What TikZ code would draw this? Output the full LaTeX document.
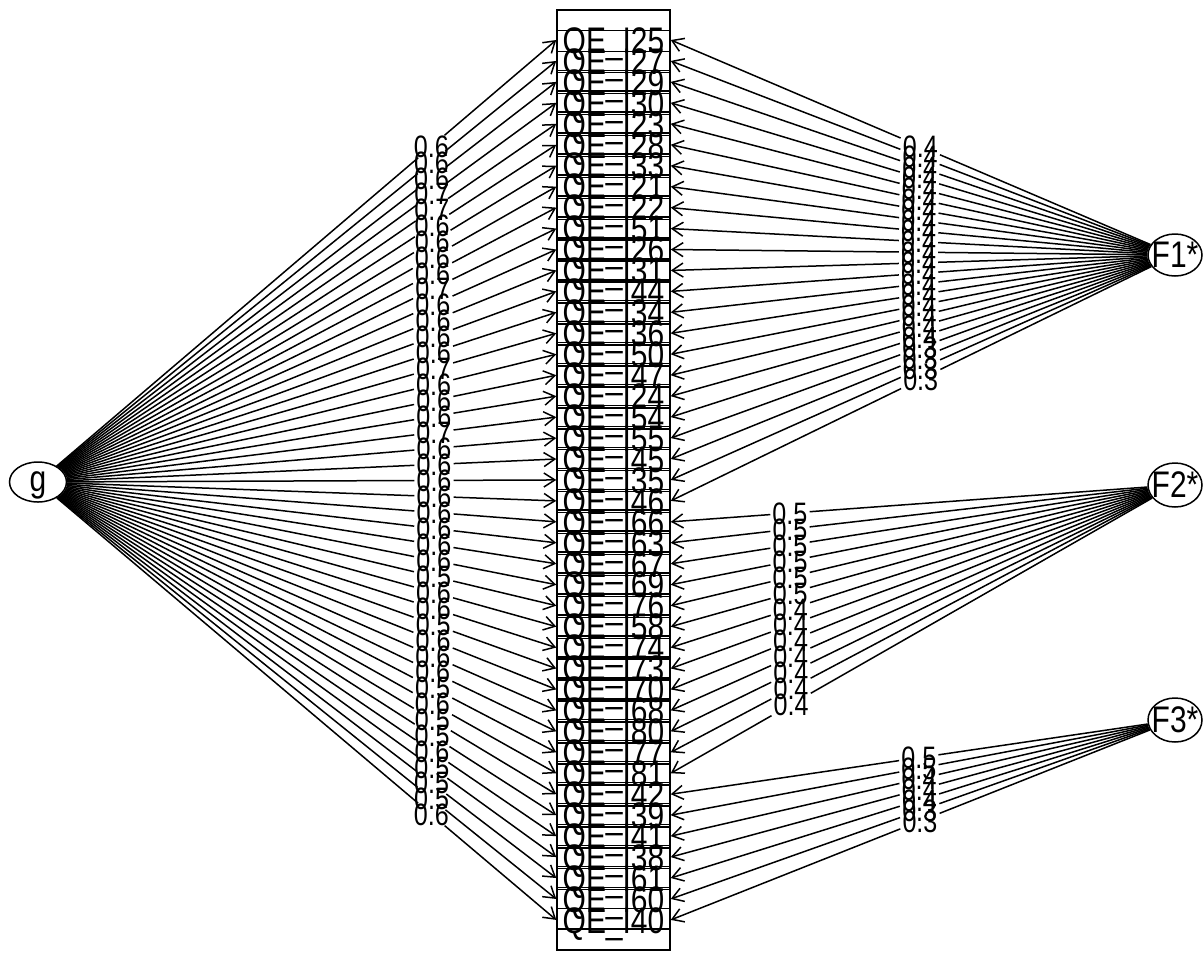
\documentclass[tikz,border=0pt]{standalone}
\usepackage{fontspec}
\setmainfont{Liberation Sans}[FakeStretch=0.81]
\usetikzlibrary{arrows.meta,shapes.geometric}
\newcommand\zb[1]{\makebox[0pt]{\raisebox{-0.5\height}[0pt][0pt]{#1}}}
\begin{document}
\begin{tikzpicture}[x=1pt,y=-1pt,
  item/.style={draw, line width=1.5pt, minimum width=113pt, minimum height=60.5pt, inner sep=0pt,
    text height=26.5pt, text depth=0pt, font=\fontsize{37}{37}\selectfont},
  fac/.style={draw, ellipse, line width=1.5pt, inner sep=0pt, font=\fontsize{37}{37}\selectfont},
  lab/.style={inner xsep=2pt, inner ysep=0pt, text height=22pt, text depth=0pt, font=\fontsize{31}{31}\selectfont},
  ln/.style={line width=1.5pt},
  arr/.style={line width=1.5pt, -{Straight Barb[length=11pt,width=14pt]}}]
\useasboundingbox (0,0) rectangle (1204,954);
% factors
\node[fac, minimum width=57pt, minimum height=40pt] (g) at (38,482) {\zb{g}};
\node[fac, minimum width=54pt, minimum height=42pt] (F1) at (1175,255) {\zb{F1*}};
\node[fac, minimum width=54pt, minimum height=44pt] (F2) at (1175,485) {\zb{F2*}};
\node[fac, minimum width=54pt, minimum height=44pt] (F3) at (1175,720) {\zb{F3*}};
% items
\foreach \t [count=\k from 0] in {25,27,29,30,23,28,33,21,22,51,26,31,44,34,36,50,47,24,54,55,45,35,46,
  66,63,67,69,76,58,74,73,70,68,80,77,81,42,39,41,38,61,60,40}{
  \node[item] (i\k) at (613.5,{40+20.95*\k}) {QE\_I\t};
}
% general factor loadings
\foreach \v [count=\k from 0] in {0.6,0.6,0.6,0.7,0.7,0.6,0.6,0.6,0.6,0.7,0.6,0.6,0.6,0.6,0.7,0.6,0.6,0.6,0.7,0.6,0.6,0.6,0.6,
  0.6,0.6,0.6,0.6,0.5,0.6,0.6,0.5,0.6,0.6,0.6,0.5,0.6,
  0.5,0.5,0.6,0.5,0.5,0.5,0.6}{
  \path (g) -- (i\k.west) node[lab,pos=.75] (gl\k) {\v};
  \draw[ln] (g) -- (gl\k);
  \draw[arr] (gl\k) -- (i\k.west);
}
% F1
\foreach \v [count=\k from 0] in {0.4,0.4,0.4,0.4,0.4,0.4,0.4,0.4,0.4,0.4,0.4,0.4,0.4,0.4,0.4,0.4,0.4,0.4,0.4,0.3,0.3,0.3,0.3}{
  \path (F1) -- (i\k.east) node[lab,pos=.48] (al\k) {\v};
  \draw[ln] (F1) -- (al\k);
  \draw[arr] (al\k) -- (i\k.east);
}
% F2
\foreach \v [count=\k from 23] in {0.5,0.5,0.5,0.5,0.5,0.5,0.4,0.4,0.4,0.4,0.4,0.4,0.4}{
  \path (F2) -- (i\k.east) node[lab,pos=.75] (bl\k) {\v};
  \draw[ln] (F2) -- (bl\k);
  \draw[arr] (bl\k) -- (i\k.east);
}
% F3
\foreach \v [count=\k from 36] in {0.5,0.5,0.4,0.4,0.4,0.3,0.3}{
  \path (F3) -- (i\k.east) node[lab,pos=.48] (cl\k) {\v};
  \draw[ln] (F3) -- (cl\k);
  \draw[arr] (cl\k) -- (i\k.east);
}
\end{tikzpicture}
\end{document}
